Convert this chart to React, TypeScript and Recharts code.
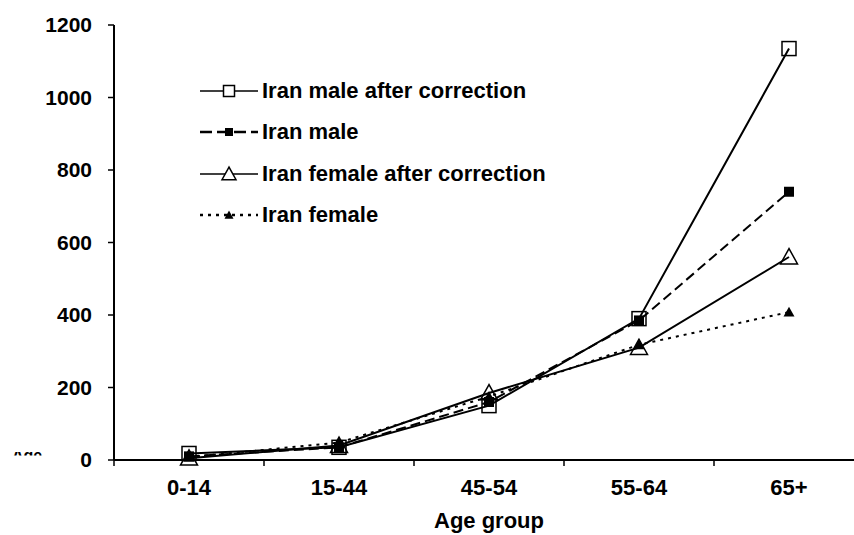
import { LineChart, Line, XAxis, YAxis } from 'recharts';

const ageGroups = ['0-14', '15-44', '45-54', '55-64', '65+'];
const maleCorrected = [18, 35, 150, 390, 1135];
const male = [10, 35, 160, 385, 740];
const femaleCorrected = [5, 40, 185, 310, 560];
const female = [8, 48, 175, 318, 408];
const yTicks = [0, 200, 400, 600, 800, 1000, 1200];

const FONT = '"Liberation Sans", Arial, Helvetica, sans-serif';
const PLOT_BOTTOM = 460;
const BAND = 150;

const data = ageGroups.map((age, i) => ({
  age,
  maleCorrected: maleCorrected[i],
  male: male[i],
  femaleCorrected: femaleCorrected[i],
  female: female[i],
}));

type MarkerKind = 'openSquare' | 'square' | 'openTriangle' | 'triangle';

const series: { key: string; name: string; dash?: string; marker: MarkerKind }[] = [
  { key: 'maleCorrected', name: 'Iran male after correction', marker: 'openSquare' },
  { key: 'femaleCorrected', name: 'Iran female after correction', marker: 'openTriangle' },
  { key: 'male', name: 'Iran male', dash: '10 5', marker: 'square' },
  { key: 'female', name: 'Iran female', dash: '3 5', marker: 'triangle' },
];
const legendOrder = ['maleCorrected', 'male', 'femaleCorrected', 'female'];

function drawMarker(kind: MarkerKind, cx: number, cy: number, s: number, fill = 'none', key?: any) {
  if (cx == null || cy == null) return <g key={key} />;
  if (kind === 'openSquare') {
    return <rect key={key} x={cx - s / 2} y={cy - s / 2} width={s} height={s} fill={fill} stroke="#000" strokeWidth={1.5} />;
  }
  if (kind === 'square') {
    return <rect key={key} x={cx - s / 2} y={cy - s / 2} width={s} height={s} fill="#000" />;
  }
  const h = s * 0.9;
  const pts = `${cx},${cy - h * 0.55} ${cx - s / 2},${cy + h * 0.45} ${cx + s / 2},${cy + h * 0.45}`;
  if (kind === 'openTriangle') {
    return <polygon key={key} points={pts} fill={fill} stroke="#000" strokeWidth={1.5} />;
  }
  return <polygon key={key} points={pts} fill="#000" />;
}

const markerSize: Record<MarkerKind, number> = { openSquare: 14, square: 10, openTriangle: 17, triangle: 11 };
const legendMarkerSize: Record<MarkerKind, number> = { openSquare: 11, square: 8, openTriangle: 14, triangle: 9 };

const XTick = ({ x, payload }: any) => (
  <g>
    <line x1={x - BAND / 2} x2={x - BAND / 2} y1={PLOT_BOTTOM} y2={PLOT_BOTTOM + 6} stroke="#000" strokeWidth={1.5} />
    <text x={x} y={495} textAnchor="middle" fontFamily={FONT} fontWeight="bold" fontSize={22} fill="#000">
      {payload.value}
    </text>
  </g>
);

const ChartLegend = () => (
  <div style={{ position: 'absolute', left: 200, top: 70, fontFamily: FONT, fontWeight: 'bold', fontSize: 22, color: '#000' }}>
    {legendOrder.map(k => {
      const s = series.find(x => x.key === k)!;
      return (
        <div key={k} style={{ display: 'flex', alignItems: 'center', height: 41.5 }}>
          <svg width={62} height={20} style={{ flexShrink: 0 }}>
            <line x1={0} x2={58} y1={10} y2={10} stroke="#000" strokeWidth={s.dash ? 2.5 : 1.5} strokeDasharray={s.dash === '10 5' ? '12 5' : s.dash} />
            {drawMarker(s.marker, 29, 10, legendMarkerSize[s.marker], '#fff')}
          </svg>
          <span style={{ whiteSpace: 'nowrap' }}>{s.name}</span>
        </div>
      );
    })}
  </div>
);

export default function App() {
  return (
    <div style={{ position: 'absolute', left: 0, top: 0, width: 854, height: 535, overflow: 'hidden', background: '#fff' }}>
      <LineChart width={870} height={535} data={data} margin={{ top: 25, right: 6, left: 0, bottom: 0 }}>
        <XAxis
          dataKey="age"
          height={75}
          padding={{ left: BAND / 2, right: BAND / 2 }}
          axisLine={{ stroke: '#000', strokeWidth: 2 }}
          tickLine={false}
          tick={<XTick />}
          interval={0}
          label={{ value: 'Age group', position: 'insideBottom', offset: 7, fill: '#000', fontSize: 22, fontWeight: 'bold', fontFamily: FONT }}
        />
        <YAxis
          width={114}
          domain={[0, 1200]}
          ticks={yTicks}
          interval={0}
          tickSize={6}
          tickMargin={16}
          axisLine={{ stroke: '#000', strokeWidth: 2 }}
          tickLine={{ stroke: '#000', strokeWidth: 1.5 }}
          tick={{ fill: '#000', fontSize: 21, fontWeight: 'bold', fontFamily: FONT }}
        />
        {series.map(s => (
          <Line
            key={s.key}
            dataKey={s.key}
            name={s.name}
            type="linear"
            stroke="#000"
            strokeWidth={2}
            strokeDasharray={s.dash}
            dot={(p: any) => drawMarker(s.marker, p.cx, p.cy, markerSize[s.marker], 'none', p.key ?? p.index)}
            activeDot={false}
            isAnimationActive={false}
          />
        ))}
      </LineChart>
      <ChartLegend />
      <svg width={60} height={470} style={{ position: 'absolute', left: 0, top: 0 }}>
        <defs>
          <clipPath id="ageClip">
            <rect x={0} y={452} width={60} height={3.5} />
          </clipPath>
        </defs>
        <text x={12} y={461} fontFamily={FONT} fontWeight="bold" fontSize={16} fill="#000" clipPath="url(#ageClip)">
          Age
        </text>
      </svg>
    </div>
  );
}
